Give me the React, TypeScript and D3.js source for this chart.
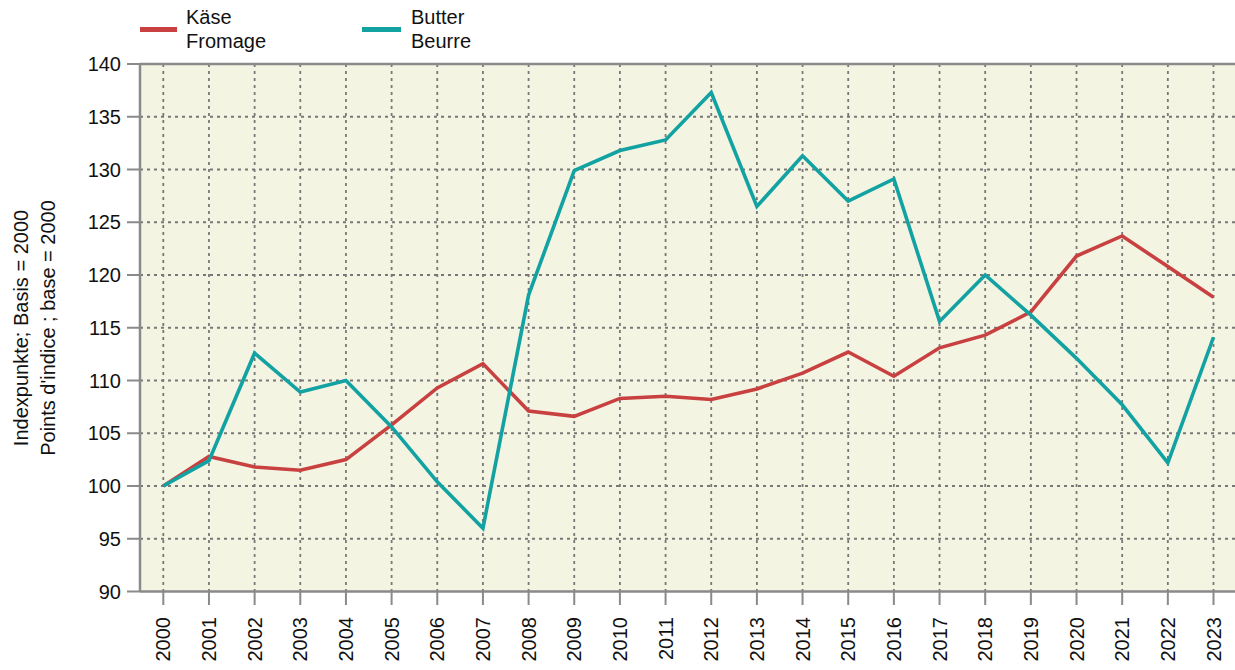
import React from "react";
import * as d3 from "d3";

const years = d3.range(2000, 2024);
const kaese = [100, 102.8, 101.8, 101.5, 102.5, 105.8, 109.3, 111.6, 107.1, 106.6, 108.3, 108.5, 108.2, 109.2, 110.7, 112.7, 110.4, 113.1, 114.3, 116.5, 121.8, 123.7, 120.8, 117.9];
const butter = [100, 102.4, 112.6, 108.9, 110.0, 105.6, 100.4, 96.0, 118.1, 129.9, 131.8, 132.8, 137.3, 126.5, 131.3, 127.0, 129.1, 115.6, 120.0, 116.2, 112.1, 107.7, 102.2, 114.1];
const yTicks = [90, 95, 100, 105, 110, 115, 120, 125, 130, 135, 140];

const W = 1235;
const H = 670;
const L = { left: 140, right: 1235, top: 64, bottom: 591.5 };
const FONT = "Liberation Sans, Arial, sans-serif";
const FS = 20;
const RED = "#c8403f";
const TEAL = "#12a2a2";
const GRID = "#787878";

const App = () => {
  const x = d3.scaleLinear().domain([2000, 2023]).range([163.3, 1213.5]);
  const y = d3.scaleLinear().domain([90, 140]).range([L.bottom, L.top]);

  const line = d3
    .line<number>()
    .x((_, i) => x(years[i]))
    .y((d) => y(d));

  return (
    <svg width={W} height={H} style={{ position: "absolute", left: 0, top: 0 }} fontFamily={FONT}>
      <rect x={L.left} y={L.top} width={L.right - L.left} height={L.bottom - L.top} fill="#f4f4e3" />

      {/* grid */}
      {yTicks.slice(1, -1).map((t) => (
        <line key={"gy" + t} x1={L.left} x2={L.right} y1={y(t)} y2={y(t)} stroke={GRID} strokeWidth={1.8} strokeDasharray="3,4" />
      ))}
      {years.map((yr) => (
        <line key={"gx" + yr} x1={x(yr)} x2={x(yr)} y1={L.top} y2={L.bottom} stroke={GRID} strokeWidth={1.8} strokeDasharray="3,4" />
      ))}

      {/* axes */}
      <line x1={L.left} x2={L.right} y1={L.top} y2={L.top} stroke="#8a8a8a" strokeWidth={2.5} />
      <line x1={L.left} x2={L.right} y1={L.bottom} y2={L.bottom} stroke="#8a8a8a" strokeWidth={2.5} />
      <line x1={L.left} x2={L.left} y1={L.top} y2={L.bottom} stroke="#8a8a8a" strokeWidth={2.5} />

      {yTicks.map((t) => (
        <g key={"ty" + t}>
          <line x1={127} x2={L.left} y1={y(t)} y2={y(t)} stroke="#8a8a8a" strokeWidth={2} />
          <text x={121} y={y(t)} dy="0.35em" textAnchor="end" fontSize={FS} fill="#111">
            {t}
          </text>
        </g>
      ))}
      {years.map((yr) => (
        <g key={"tx" + yr}>
          <line x1={x(yr)} x2={x(yr)} y1={L.bottom} y2={605} stroke="#8a8a8a" strokeWidth={2} />
          <text
            transform={`translate(${x(yr)},617) rotate(-90)`}
            dy="0.35em"
            textAnchor="end"
            fontSize={FS}
            fill="#111"
          >
            {yr}
          </text>
        </g>
      ))}

      {/* y title */}
      <text transform="translate(21,328) rotate(-90)" textAnchor="middle" dy="0.35em" fontSize={FS} fill="#111">
        Indexpunkte; Basis = 2000
      </text>
      <text transform="translate(48,328) rotate(-90)" textAnchor="middle" dy="0.35em" fontSize={FS} fill="#111">
        Points d'indice ; base = 2000
      </text>

      {/* lines */}
      <path d={line(kaese) || ""} fill="none" stroke={RED} strokeWidth={3.6} strokeLinejoin="miter" />
      <path d={line(butter) || ""} fill="none" stroke={TEAL} strokeWidth={3.6} strokeLinejoin="miter" />

      {/* legend */}
      <line x1={140} x2={177} y1={29.5} y2={29.5} stroke={RED} strokeWidth={5} />
      <text x={186} y={24} fontSize={FS} fill="#111">Käse</text>
      <text x={186} y={48} fontSize={FS} fill="#111">Fromage</text>
      <line x1={362} x2={401} y1={29.5} y2={29.5} stroke={TEAL} strokeWidth={5} />
      <text x={411} y={24} fontSize={FS} fill="#111">Butter</text>
      <text x={411} y={48} fontSize={FS} fill="#111">Beurre</text>
    </svg>
  );
};

export default App;
